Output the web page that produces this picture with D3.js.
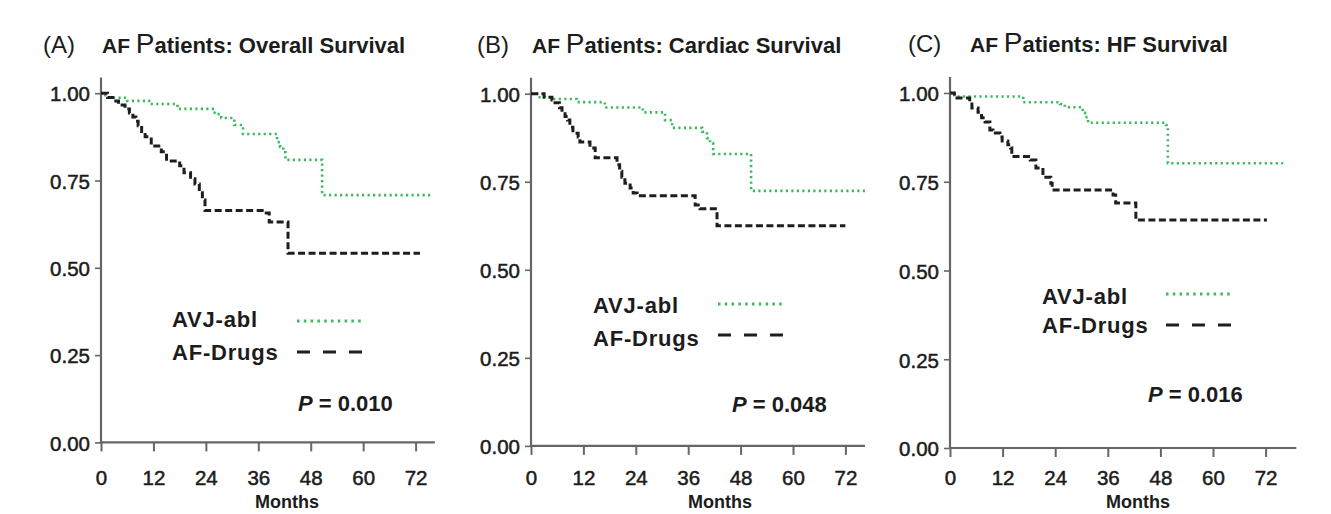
<!doctype html>
<html>
<head>
<meta charset="utf-8">
<style>
  body { margin: 0; background: #fff; }
  text { font-family: "Liberation Sans", Arial, sans-serif; fill: #1c1c1c; }
</style>
<script src="https://d3js.org/d3.v7.min.js"></script>
</head>
<body>
<svg width="1331" height="514"></svg>
<script>
var months = [0, 12, 24, 36, 48, 60, 72];
var survTicks = [0, 0.25, 0.5, 0.75, 1];
var letters = ["(A)", "(B)", "(C)"];
var titles = ["Overall Survival", "Cardiac Survival", "HF Survival"];
var pValues = ["0.010", "0.048", "0.016"];
var seriesNames = ["AVJ-abl", "AF-Drugs"];

// [month, survival] at every step, last point = end of follow-up
var ablOverall = [[0,1],[1,0.987],[6,0.978],[11,0.969],[17.5,0.955],[26,0.94],[27.5,0.929],[30.5,0.909],[32.5,0.883],[40.3,0.86],[41,0.846],[41.7,0.831],[42.2,0.809],[50.6,0.708],[76,0.708]];
var drugsOverall = [[0,1],[1.5,0.988],[2.7,0.978],[4,0.966],[5.5,0.955],[6.5,0.943],[7.3,0.932],[8,0.92],[8.5,0.907],[9.3,0.89],[10.1,0.875],[11.5,0.849],[13.8,0.832],[15,0.806],[18,0.792],[19,0.772],[20.5,0.755],[21.5,0.74],[22.5,0.715],[23.2,0.694],[23.8,0.664],[37.3,0.657],[38.5,0.631],[42.8,0.542],[73,0.542]];
var ablCardiac = [[0,1],[1.5,0.99],[4.5,0.985],[10.5,0.976],[16.9,0.961],[25.6,0.947],[30.7,0.925],[32.3,0.903],[39.2,0.892],[40.3,0.874],[41,0.86],[41.7,0.829],[50.4,0.724],[76.5,0.724]];
var drugsCardiac = [[0,1],[3,0.99],[4.8,0.982],[5.5,0.974],[6.5,0.96],[7.1,0.948],[7.8,0.935],[8.4,0.925],[8.9,0.905],[9.6,0.888],[10.8,0.877],[11.2,0.863],[13.5,0.846],[14.7,0.818],[19.7,0.798],[20.3,0.78],[20.8,0.763],[21.5,0.746],[22.7,0.732],[23.4,0.718],[24.3,0.71],[37.6,0.684],[38.7,0.673],[42.6,0.625],[72,0.625]];
var ablHF = [[0,1],[1,0.99],[16.7,0.974],[25.1,0.969],[26.2,0.96],[30.3,0.944],[30.8,0.932],[31.5,0.916],[49.3,0.91],[49.7,0.802],[76,0.802]];
var drugsHF = [[0,1],[1,0.986],[4.5,0.975],[5,0.958],[6.4,0.946],[7.2,0.93],[8,0.918],[9.1,0.896],[9.8,0.887],[11.4,0.876],[11.9,0.865],[13.2,0.854],[13.8,0.845],[14.1,0.821],[18.3,0.811],[19.6,0.789],[21.2,0.763],[23,0.746],[23.3,0.727],[37.2,0.713],[37.8,0.69],[42.4,0.642],[72.3,0.642]];

var ablSeries = [ablOverall, ablCardiac, ablHF];
var drugSeries = [drugsOverall, drugsCardiac, drugsHF];

var green = "#3cb95c", dark = "#1e1e1e", axisGray = "#666";

// pixel frame of each panel
var frames = [
  { x0: 101, x72: 415.6, y0: 442.4, y1: 93.2, xMax: 76.4, lx: 102, tx: 43, ty: 53,
    legX: 172, legY: [327, 360], lineX: [297, 364], lineY: [321, 352], pX: 298, pY: 411, mX: 287 },
  { x0: 531, x72: 845.4, y0: 445.9, y1: 93.7, xMax: 76.5, lx: 532, tx: 477, ty: 53,
    legX: 593, legY: [313, 346], lineX: [718, 786], lineY: [304, 335], pX: 732, pY: 412, mX: 720 },
  { x0: 950, x72: 1265.6, y0: 448, y1: 93, xMax: 79, lx: 970, tx: 908, ty: 52,
    legX: 1042, legY: [304, 333], lineX: [1166, 1234], lineY: [294, 325], pX: 1148, pY: 402, mX: 1138 }
];

var svg = d3.select("svg");

frames.forEach(function(f, i) {
  var x = d3.scaleLinear().domain([0, 72]).range([f.x0, f.x72]);
  var y = d3.scaleLinear().domain([0, 1]).range([f.y0, f.y1]);
  var g = svg.append("g");

  // title
  g.append("text").attr("x", f.tx).attr("y", f.ty)
    .style("font-size", "24px").text(letters[i]);
  var t = g.append("text").attr("x", f.lx).attr("y", f.ty).style("font-weight", "bold");
  t.append("tspan").style("font-size", "21px").text("AF ");
  t.append("tspan").style("font-size", "28px").style("font-weight", "normal").text("P");
  t.append("tspan").style("font-size", "22px").text("atients: " + titles[i]);

  // axes
  var xAxis = g.append("g").attr("transform", "translate(0," + f.y0 + ")")
    .call(d3.axisBottom(x).tickValues(months).tickSize(9).tickPadding(4));
  xAxis.select(".domain").remove();
  xAxis.selectAll("line").attr("stroke", axisGray).attr("stroke-width", 2);
  xAxis.selectAll("text").attr("y", 485 - f.y0).attr("dy", 0)
    .style("font-size", "20.5px").style("font-family", "Liberation Sans, Arial, sans-serif")
    .attr("fill", "#1c1c1c").attr("stroke", "#1c1c1c").attr("stroke-width", 0.5);

  var yAxis = g.append("g").attr("transform", "translate(" + f.x0 + ",0)")
    .call(d3.axisLeft(y).tickValues(survTicks).tickSize(6).tickPadding(5).tickFormat(d3.format(".2f")));
  yAxis.select(".domain").remove();
  yAxis.selectAll("line").attr("stroke", axisGray).attr("stroke-width", 1.6);
  yAxis.selectAll("text").attr("dy", "0.38em")
    .style("font-size", "20.5px").style("font-family", "Liberation Sans, Arial, sans-serif")
    .attr("fill", "#1c1c1c").attr("stroke", "#1c1c1c").attr("stroke-width", 0.5);

  g.append("line").attr("x1", x(0)).attr("x2", x(f.xMax))
    .attr("y1", y(0)).attr("y2", y(0))
    .attr("stroke", axisGray).attr("stroke-width", 2.2);
  g.append("line").attr("x1", x(0)).attr("x2", x(0))
    .attr("y1", y(0) + 1).attr("y2", y(1.045))
    .attr("stroke", axisGray).attr("stroke-width", 2.2);

  // survival curves
  var line = d3.line().curve(d3.curveStepAfter)
    .x(function(d) { return x(d[0]); })
    .y(function(d) { return y(d[1]); });

  g.append("path").datum(ablSeries[i]).attr("d", line)
    .attr("fill", "none").attr("stroke", green).attr("stroke-width", 2.6)
    .attr("stroke-dasharray", "2.2,3.3");
  g.append("path").datum(drugSeries[i]).attr("d", line)
    .attr("fill", "none").attr("stroke", dark).attr("stroke-width", 3)
    .attr("stroke-dasharray", "7,3.5");

  // legend
  seriesNames.forEach(function(name, k) {
    g.append("text").attr("x", f.legX).attr("y", f.legY[k])
      .style("font-size", "22px").style("font-weight", "bold")
      .style("letter-spacing", "0.8px").text(name);
    g.append("line").attr("x1", f.lineX[0]).attr("x2", f.lineX[1])
      .attr("y1", f.lineY[k]).attr("y2", f.lineY[k])
      .attr("stroke", k === 0 ? green : dark)
      .attr("stroke-width", 3)
      .attr("stroke-dasharray", k === 0 ? "2.5,4.3" : "13,13");
  });

  // p value
  var p = g.append("text").attr("x", f.pX).attr("y", f.pY)
    .style("font-size", "22px").style("font-weight", "bold");
  p.append("tspan").style("font-style", "italic").text("P");
  p.append("tspan").text(" = " + pValues[i]);

  // x label
  g.append("text").attr("x", f.mX).attr("y", 508).attr("text-anchor", "middle")
    .style("font-size", "18px").style("font-weight", "bold").text("Months");
});
</script>
</body>
</html>
